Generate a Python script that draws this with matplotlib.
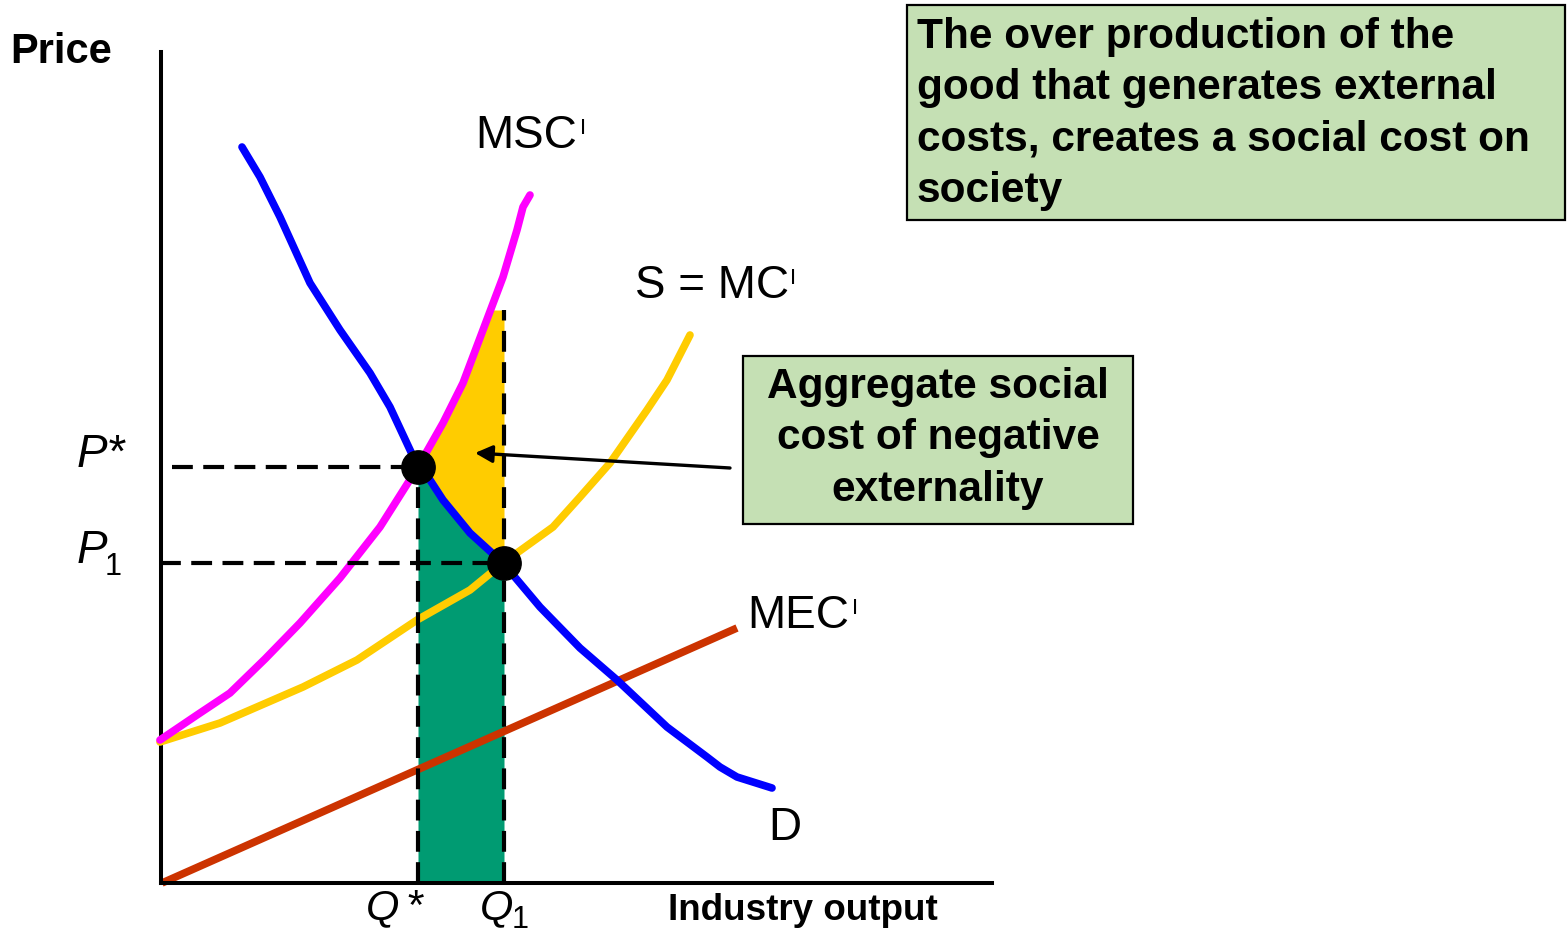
import numpy as np
import matplotlib
matplotlib.use("Agg")
import matplotlib.pyplot as plt
from matplotlib.patches import Rectangle

plt.rcParams['font.family'] = ['Liberation Sans', 'DejaVu Sans']
plt.rcParams['lines.scale_dashes'] = False

# ---------------- data (quantity, price) ----------------
D_q = [8.2, 10.0, 12.0, 15.0, 18.0, 21.0, 23.0, 24.4, 25.8, 27.0, 28.3, 31.0, 34.3,
       38.0, 42.0, 45.7, 50.7, 54.7, 56.0, 57.7, 61.2]
D_p = [73.6, 70.6, 66.6, 60.0, 55.3, 51.0, 47.6, 44.6, 41.6, 40.3, 38.3, 35.0, 32.0,
       27.6, 23.5, 20.3, 15.6, 12.6, 11.6, 10.6, 9.5]

MSC_q = [0.0, 3.7, 7.0, 10.5, 14.0, 18.0, 22.0, 25.8, 28.3, 30.3, 32.3, 34.3, 35.7, 36.3, 37.0]
MSC_p = [14.3, 16.8, 19.0, 22.4, 26.0, 30.5, 35.6, 41.6, 46.0, 50.0, 55.3, 60.6, 65.3, 67.6, 68.8]

S_q = [0.0, 6.0, 14.3, 19.7, 25.7, 31.0, 34.3, 39.3, 42.0, 45.0, 48.7, 50.7, 53.0]
S_p = [14.1, 16.0, 19.6, 22.3, 26.3, 29.3, 32.0, 35.6, 38.6, 42.0, 47.3, 50.3, 54.8]

MEC_q = [0.2, 57.7]
MEC_p = [0.0, 25.5]

Q_star, Q_1 = 25.8, 34.4
P_star, P_1 = 41.6, 32.0
area_top = 57.3

box1_lines = ["The over production of the", "good that generates external",
              "costs, creates a social cost on", "society"]
box2_lines = ["Aggregate social", "cost of negative", "externality"]

# ---------------- figure ----------------
W, H = 1567, 932
fig = plt.figure(figsize=(W / 100, H / 100), dpi=100)


def fx(px):
    return px / W


def fy(py):
    return 1 - py / H


ax = fig.add_axes([fx(161), fy(883), (992 - 161) / W, (883 - 52) / H])
ax.set_xlim(0.1, 83.2)
ax.set_ylim(0, 83.1)
ax.set_xticks([])
ax.set_yticks([])
for s in ['top', 'right']:
    ax.spines[s].set_visible(False)
for s in ['left', 'bottom']:
    ax.spines[s].set_linewidth(2.9)
    ax.spines[s].set_color('black')
ax.patch.set_alpha(0)

# fills
qq = np.linspace(Q_star, Q_1, 80)
d_vals = np.interp(qq, D_q, D_p)
msc_vals = np.minimum(np.interp(qq, MSC_q, MSC_p), area_top)
ax.fill_between(qq, 0, d_vals, color='#009B72', lw=0, zorder=1)
ax.fill_between(qq, d_vals, msc_vals, color='#FFCC00', lw=0, zorder=1)

# curves
LW = 5.5
ax.plot(MEC_q, MEC_p, color='#CC3300', lw=LW, solid_capstyle='butt', zorder=2, clip_on=False)
ax.plot(S_q, S_p, color='#FFCC00', lw=LW, solid_capstyle='round', solid_joinstyle='round',
        zorder=3, clip_on=False)
ax.plot(MSC_q, MSC_p, color='#FF00FF', lw=LW, solid_capstyle='round', solid_joinstyle='round',
        zorder=3, clip_on=False)
ax.plot(D_q, D_p, color='#0000FF', lw=LW, solid_capstyle='round', solid_joinstyle='round',
        zorder=4, clip_on=False)

# dashed guides
dash = (15, 7.5)
ax.plot([1.2, Q_star], [P_star, P_star], color='black', lw=3, dashes=dash, zorder=5, clip_on=False)
ax.plot([0, Q_1], [P_1, P_1], color='black', lw=3, dashes=dash, zorder=5, clip_on=False)
ax.plot([Q_star, Q_star], [0, P_star], color='black', lw=3, dashes=dash, zorder=5, clip_on=False)
ax.plot([Q_1, Q_1], [0, area_top], color='black', lw=3, dashes=dash, zorder=5, clip_on=False)

# equilibrium points
ax.plot([Q_star, Q_1], [P_star, P_1], 'o', color='black', ms=24, zorder=7, clip_on=False)

# arrow
ax.annotate('', xy=(31.5, 43.0), xytext=(57.0, 41.5),
            arrowprops=dict(arrowstyle='-|>', lw=2.4, color='black', mutation_scale=26,
                            shrinkA=0, shrinkB=0), zorder=6, annotation_clip=False)

# ---------------- texts ----------------
fig.text(fx(10), fy(63), 'Price', fontsize=30, fontweight='bold', va='baseline')

fig.text(fx(475), fy(148), 'MSC', fontsize=33, va='baseline')
fig.text(fx(580), fy(134), 'I', fontsize=16, va='baseline')
fig.text(fx(635), fy(298), 'S = MC', fontsize=33, va='baseline')
fig.text(fx(790), fy(284), 'I', fontsize=16, va='baseline')
fig.text(fx(747), fy(628), 'MEC', fontsize=33, va='baseline')
fig.text(fx(852), fy(614), 'I', fontsize=16, va='baseline')
fig.text(fx(768), fy(840), 'D', fontsize=33, va='baseline')

fig.text(fx(77), fy(467), 'P*', fontsize=33, style='italic', va='baseline')
fig.text(fx(77), fy(563), 'P', fontsize=33, style='italic', va='baseline')
fig.text(fx(105), fy(575), '1', fontsize=22, va='baseline')
fig.text(fx(366), fy(919), 'Q', fontsize=31, style='italic', va='baseline')
fig.text(fx(405), fy(919), '*', fontsize=31, style='italic', va='baseline')
fig.text(fx(480), fy(919), 'Q', fontsize=31, style='italic', va='baseline')
fig.text(fx(512), fy(928), '1', fontsize=22, va='baseline')
fig.text(fx(668), fy(920), 'Industry output', fontsize=26.5, fontweight='bold', va='baseline')

# boxes
fig.patches.append(Rectangle((fx(907), fy(220)), (1565 - 907) / W, (220 - 5) / H,
                             transform=fig.transFigure, facecolor='#C5E0B4',
                             edgecolor='black', lw=1.6, zorder=0))
for i, line in enumerate(box1_lines):
    fig.text(fx(917), fy(48 + 51.3 * i), line, fontsize=30.5, fontweight='bold', va='baseline')

fig.patches.append(Rectangle((fx(743), fy(524)), (1133 - 743) / W, (524 - 356) / H,
                             transform=fig.transFigure, facecolor='#C5E0B4',
                             edgecolor='black', lw=1.6, zorder=0))
for i, line in enumerate(box2_lines):
    fig.text(fx(938), fy(398 + 51.3 * i), line, fontsize=30.5, fontweight='bold',
             va='baseline', ha='center')

fig.savefig('out.png', dpi=100)
